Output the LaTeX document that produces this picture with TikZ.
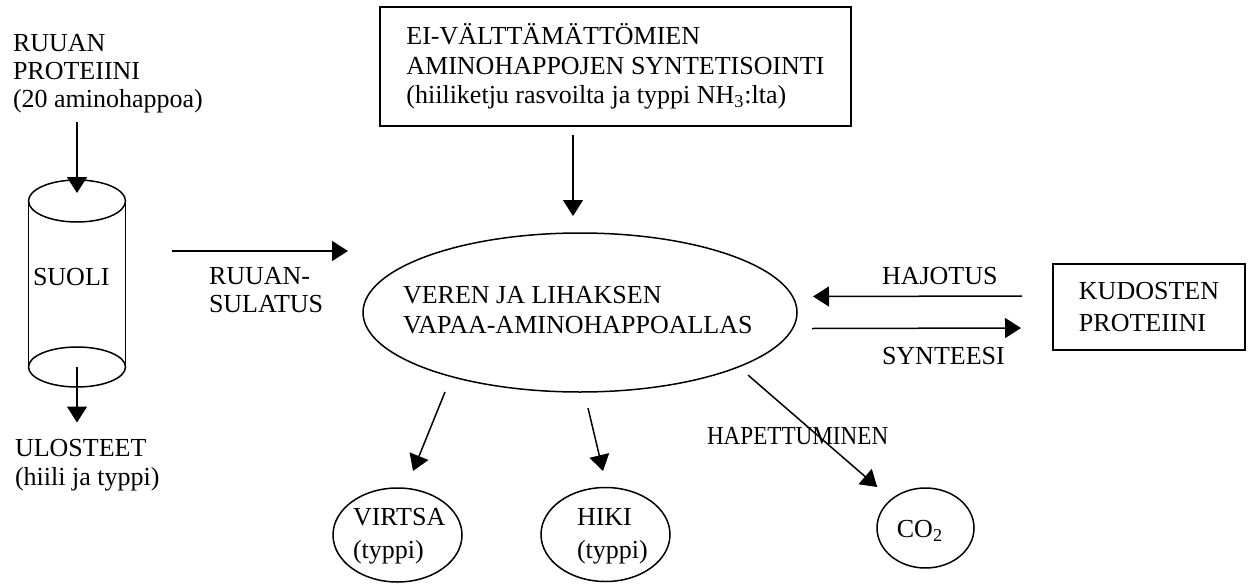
\documentclass[tikz,border=0pt]{standalone}
\usepackage{fontspec}
\setmainfont{Liberation Serif}
\usetikzlibrary{shapes.geometric,arrows.meta,calc}
\begin{document}
\begin{tikzpicture}[x=0.5pt,y=-0.5pt,
  every node/.style={inner sep=0pt, outer sep=0pt},
  txt/.style={align=left, font=\fontsize{13pt}{14.5pt}\selectfont},
  arr/.style={line width=0.75pt, -{Triangle[length=8pt,width=10pt]}},
  shapeline/.style={line width=0.75pt},
]
\useasboundingbox (0,0) rectangle (1251,583);

% food input
\node[txt, anchor=north west, font=\fontsize{13pt}{14pt}\selectfont] (food) at (13,34) {RUUAN\\PROTEIINI\\(20 aminohappoa)};

% intestine cylinder
\node[draw, ellipse, shapeline, minimum width=48.5pt, minimum height=21pt] (stop) at (77,201) {};
\node[draw, ellipse, shapeline, minimum width=48.5pt, minimum height=20pt] (sbot) at (77,367) {};
\draw[shapeline] (stop.west) -- (sbot.west) (stop.east) -- (sbot.east);
\node[txt, anchor=west] (suoli) at (33,277) {SUOLI};

\draw[arr] ($(stop.north)+(0,-58)$) -- ($(stop.north)+(0,13)$);

% feces
\node[txt, anchor=north west] (ulost) at (15,439.5) {ULOSTEET\\(hiili ja typpi)};
\draw[arr, shorten >=8.5pt] (sbot.center) -- (ulost.north -| sbot.center);

% digestion arrow
\coordinate (sulA) at (172,251);
\coordinate (sulB) at (348,251);
\draw[arr] (sulA) -- (sulB);
\node[txt, anchor=north west, font=\fontsize{13pt}{14pt}\selectfont] (sulatus) at (209,267.5) {RUUAN-\\SULATUS};

% synthesis box
\node[draw, shapeline, txt, font=\fontsize{13pt}{14.75pt}\selectfont, minimum width=235.5pt, minimum height=59.5pt] (synt) at (615.5,66.5) {EI-VÄLTTÄMÄTTÖMIEN\\AMINOHAPPOJEN SYNTETISOINTI\\(hiiliketju rasvoilta ja typpi NH\textsubscript{3}:lta)};

% pool
\node[draw, ellipse, shapeline, minimum width=217pt, minimum height=79.5pt] (pool) at (580,312.5) {};
\node[txt, anchor=north west, font=\fontsize{13pt}{15pt}\selectfont] (pooltxt) at (403,286.4) {VEREN JA LIHAKSEN\\VAPAA-AMINOHAPPOALLAS};

\draw[arr] ($(synt.south)+(-42.5,9)$) -- ($(pool.north)+(-7,-17)$);

% tissue proteins
\node[draw, shapeline, txt, font=\fontsize{13pt}{16pt}\selectfont, minimum width=96pt, minimum height=43pt] (kud) at (1149,307) {KUDOSTEN\\PROTEIINI};
\draw[arr] ($(kud.west)+(-31,-11)$) -- ($(pool.east)+(16,-16)$);
\draw[arr] ($(pool.east)+(15,16)$) -- ($(kud.west)+(-32,21)$);
\node[txt, anchor=west] (hajotus) at (882,276) {HAJOTUS};
\node[txt, anchor=west] (synteesi) at (882,356) {SYNTEESI};

% outputs
\node[draw, ellipse, shapeline, minimum width=64.5pt, minimum height=47pt] (virtsa) at (397.5,535) {};
\node[txt, anchor=north west, font=\fontsize{13pt}{16.5pt}\selectfont] (virtsatxt) at (353,508.4) {VIRTSA\\(typpi)};
\node[draw, ellipse, shapeline, minimum width=64.5pt, minimum height=47pt] (hiki) at (605.5,534.5) {};
\node[txt, anchor=north west, font=\fontsize{13pt}{16.5pt}\selectfont] (hikitxt) at (577,508.4) {HIKI\\(typpi)};
\node[draw, ellipse, shapeline, minimum width=48.5pt, minimum height=40pt] (co2) at (925.5,528) {};
\node[txt] (co2txt) at (920,531) {CO\textsubscript{2}};

\draw[arr] ($(pool.south)+(-135,0)$) -- ($(virtsa.north)+(15.5,-17)$);
\draw[arr] ($(pool.south)+(8,16)$) -- ($(hiki.north)+(-2.5,-16.5)$);
\draw[arr] ($(pool.south east)+(14.6,6.4)$) -- ($(co2.north west)+(-14,-12.7)$);
\node[txt, anchor=west] (hapet) at (707,436) {\scalebox{0.89}[1]{HAPETTUMINEN}};
\end{tikzpicture}
\end{document}
